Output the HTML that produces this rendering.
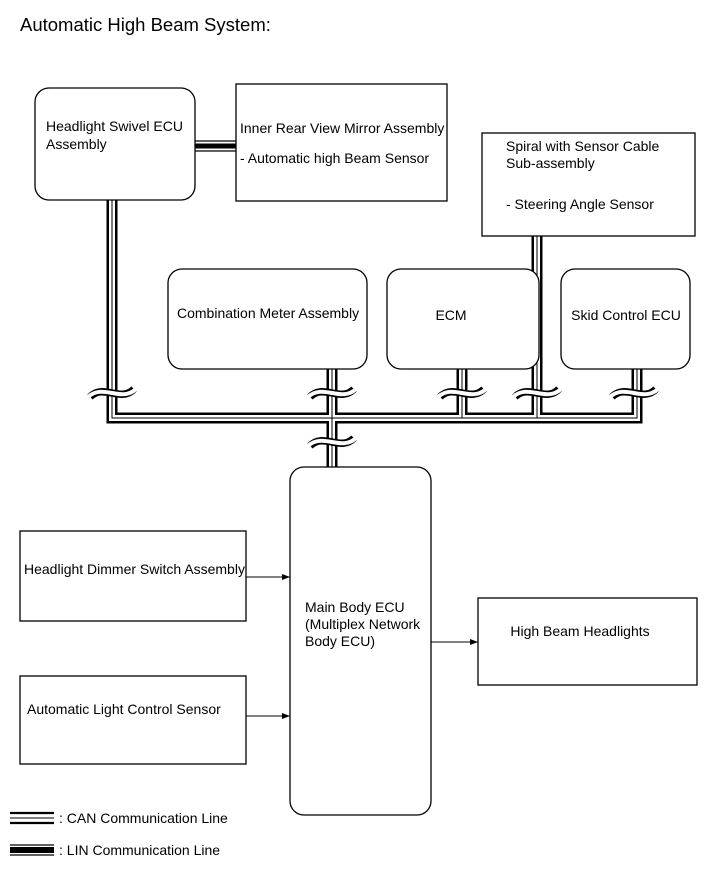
<!DOCTYPE html>
<html><head><style>
body{margin:0;background:#fff;}
svg{display:block;font-family:"Liberation Sans",Arial,sans-serif;}
text{font-size:14px;fill:#000;}
</style></head><body>
<svg width="713" height="882" viewBox="0 0 713 882">
<defs>
<marker id="ar" markerWidth="8" markerHeight="6" refX="8" refY="3" orient="auto" markerUnits="userSpaceOnUse"><path d="M0,0 L8,3 L0,6z" fill="#000"/></marker>
</defs>
<text x="20" y="31" style="font-size:18.5px">Automatic High Beam System:</text>
<g fill="none" stroke-linejoin="miter">
<path d="M112,200 V418 H637 V369 M332,369 V467 M462,369 V418 M537,236 V418" stroke="#000" stroke-width="11"/>
<path d="M112,200 V418 H637 V369 M332,369 V467 M462,369 V418 M537,236 V418" stroke="#fff" stroke-width="6"/>
<path d="M112,200 V418 H637 V369 M332,369 V467 M462,369 V418 M537,236 V418" stroke="#000" stroke-width="1"/>
<g stroke-linecap="butt">
<path d="M90,397 C103,383 121,403 134,389 M310,397 C323,383 341,403 354,389 M440,397 C453,383 471,403 484,389 M515,397 C528,383 546,403 559,389 M612,397 C625,383 643,403 656,389 M310,446 C323,432 341,452 354,438" stroke="#000" stroke-width="7.5"/>
<path d="M88,397 C103,383 121,403 136,389 M308,397 C323,383 341,403 356,389 M438,397 C453,383 471,403 486,389 M513,397 C528,383 546,403 561,389 M610,397 C625,383 643,403 658,389 M308,446 C323,432 341,452 356,438" stroke="#fff" stroke-width="4"/>
</g>
<path d="M195,141 H236 M195,151 H236" stroke="#000" stroke-width="1.3"/>
<path d="M195,146 H236" stroke="#000" stroke-width="5"/>
<g stroke="#000" stroke-width="1.3" fill="#fff">
<rect x="35" y="88" width="160" height="112" rx="14"/>
<rect x="236" y="84" width="211" height="117"/>
<rect x="482" y="133" width="213" height="103"/>
<rect x="168" y="269" width="199" height="100" rx="14"/>
<rect x="387" y="269" width="152" height="100" rx="14"/>
<rect x="561" y="269" width="129" height="100" rx="14"/>
<rect x="290" y="467" width="141" height="348" rx="14"/>
<rect x="20" y="531" width="226" height="90"/>
<rect x="20" y="676" width="226" height="88"/>
<rect x="478" y="598" width="219" height="87"/>
</g>
<g stroke="#000" stroke-width="1">
<path d="M246,577 H290" marker-end="url(#ar)"/>
<path d="M246,716 H290" marker-end="url(#ar)"/>
<path d="M431,642 H478" marker-end="url(#ar)"/>
</g>
<path d="M10,813 H54 M10,823 H54" stroke="#000" stroke-width="2.2"/>
<path d="M10,818 H54" stroke="#000" stroke-width="1"/>
<path d="M10,850 H54" stroke="#000" stroke-width="6"/>
<path d="M10,845 H54 M10,855 H54" stroke="#000" stroke-width="1.3"/>
</g>
<text x="46" y="131">Headlight Swivel ECU</text>
<text x="46" y="149">Assembly</text>
<text x="240" y="133">Inner Rear View Mirror Assembly</text>
<text x="240" y="163">- Automatic high Beam Sensor</text>
<text x="506" y="151">Spiral with Sensor Cable</text>
<text x="506" y="168">Sub-assembly</text>
<text x="506" y="209">- Steering Angle Sensor</text>
<text x="177" y="318">Combination Meter Assembly</text>
<text x="451" y="320" text-anchor="middle">ECM</text>
<text x="626" y="320" text-anchor="middle">Skid Control ECU</text>
<text x="305" y="612">Main Body ECU</text>
<text x="305" y="629">(Multiplex Network</text>
<text x="305" y="646">Body ECU)</text>
<text x="24" y="574">Headlight Dimmer Switch Assembly</text>
<text x="27" y="714">Automatic Light Control Sensor</text>
<text x="580" y="636" text-anchor="middle">High Beam Headlights</text>
<text x="59" y="823">: CAN Communication Line</text>
<text x="59" y="855">: LIN Communication Line</text>
</svg>
</body></html>
